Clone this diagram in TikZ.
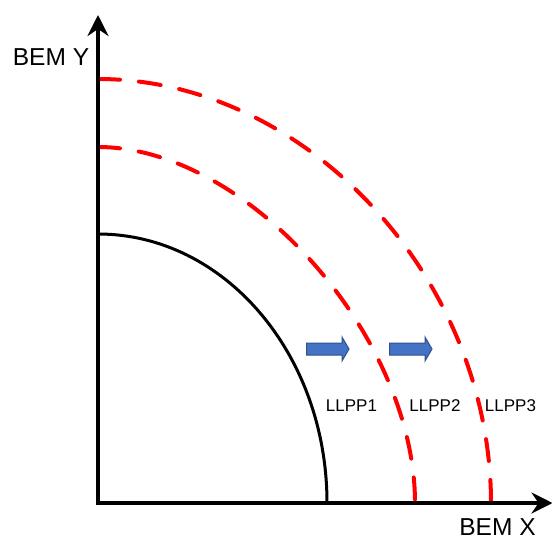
\documentclass[tikz,border=0pt]{standalone}
\usepackage{fontspec}
\setmainfont{Liberation Sans}
\usetikzlibrary{arrows.meta}
\definecolor{arrowblue}{RGB}{68,114,196}
\definecolor{arrowedge}{RGB}{47,82,143}
\begin{document}
\begin{tikzpicture}[x=1pt,y=-1pt,
  axisline/.style={line width=3.5pt,-{Stealth[length=21pt,width=21pt,inset=7pt]}},
  solidcurve/.style={line width=3pt,black},
  redcurve/.style={line width=4pt,red,line cap=round,dash pattern=on 22pt off 19pt},
  blockarrow/.style={fill=arrowblue,draw=arrowedge,line width=1pt,line join=miter},
  axislabel/.style={font=\fontsize{24.5}{28}\selectfont,anchor=base,inner sep=0pt},
  curvelabel/.style={font=\fontsize{17}{20}\selectfont,anchor=base,inner sep=0pt}]
\useasboundingbox (0,0) rectangle (552,538);
\fill[white] (0,0) rectangle (552,538);
% axes
\coordinate (O) at (98,503);
\coordinate (Ytip) at (98,15);
\coordinate (Xtip) at (552.5,503);
% curves
\draw[solidcurve] (98,234) .. controls (224.5,234) and (327,354.4) .. (327,503);
\draw[redcurve] (98,147) .. controls (247,147) and (415,335.7) .. (415,503);
\draw[redcurve] (98,79) .. controls (306.3,79) and (491,278.3) .. (491,503);
\draw[axisline] (98,505) -- (Ytip);
\draw[axisline] (96,503) -- (Xtip);
% block arrows
\draw[blockarrow] (306.5,343) -- (342,343) -- (342,337) -- (349,349) -- (342,361) -- (342,355) -- (306.5,355) -- cycle;
\draw[blockarrow] (389.5,343) -- (425,343) -- (425,337) -- (432,349) -- (425,361) -- (425,355) -- (389.5,355) -- cycle;
% labels
\node[axislabel] (ylab) at (51,65) {BEM Y};
\node[axislabel] (xlab) at (497.5,535.5) {BEM X};
\node[curvelabel] (l1) at (351.5,411) {LLPP1};
\node[curvelabel] (l2) at (435,411) {LLPP2};
\node[curvelabel] (l3) at (510.5,411) {LLPP3};
\end{tikzpicture}
\end{document}
